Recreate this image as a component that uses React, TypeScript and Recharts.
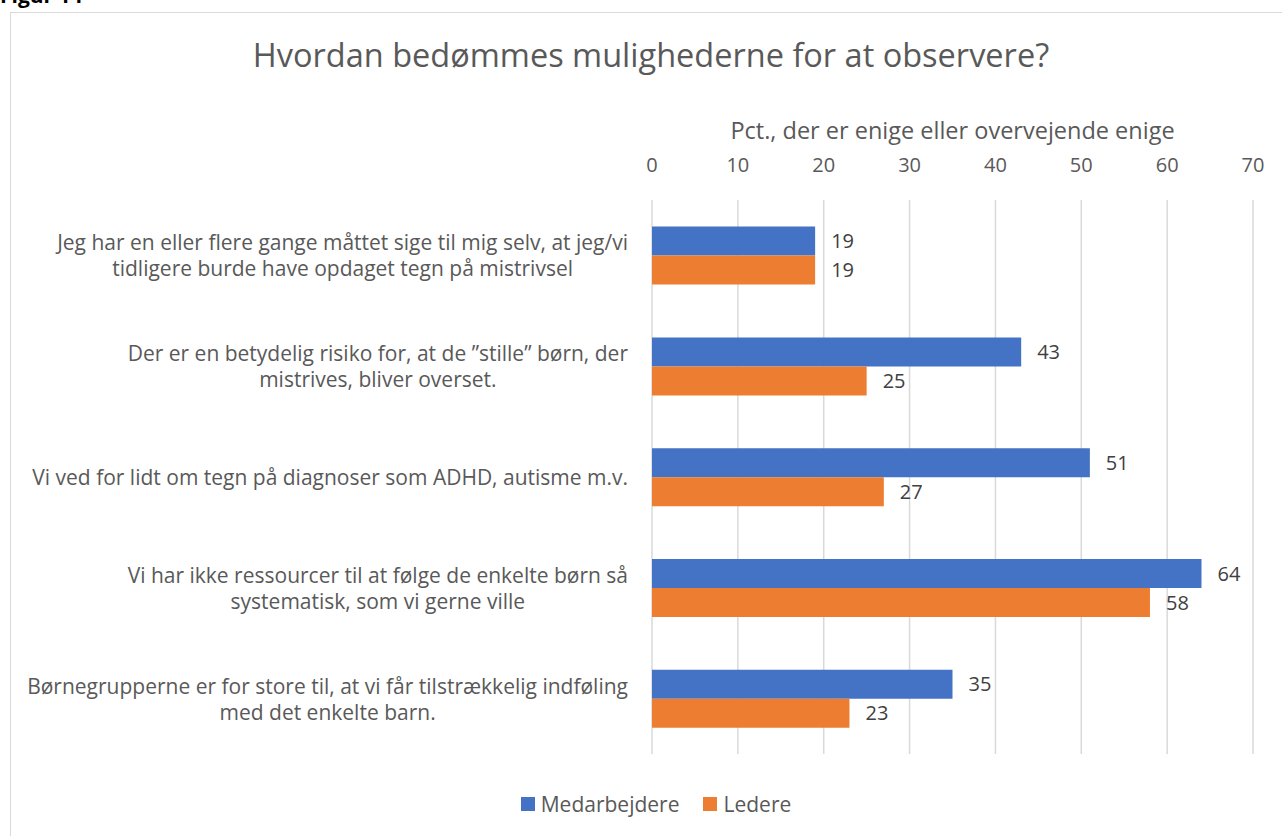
import { BarChart, Bar, XAxis, YAxis, CartesianGrid, LabelList } from 'recharts';

const categories = [
  'Jeg har en eller flere gange måttet sige til mig selv, at jeg/vi\ntidligere burde have opdaget tegn på mistrivsel',
  'Der er en betydelig risiko for, at de ”stille” børn, der\nmistrives, bliver overset.',
  'Vi ved for lidt om tegn på diagnoser som ADHD, autisme m.v.',
  'Vi har ikke ressourcer til at følge de enkelte børn så\nsystematisk, som vi gerne ville',
  'Børnegrupperne er for store til, at vi får tilstrækkelig indføling\nmed det enkelte barn.',
];
const medarbejdere = [19, 43, 51, 64, 35];
const ledere = [19, 25, 27, 58, 23];
const xTicks = [0, 10, 20, 30, 40, 50, 60, 70];

const data = categories.map((label, i) => ({
  label,
  Medarbejdere: medarbejdere[i],
  Ledere: ledere[i],
}));

const FONT = '"Open Sans", Lato, sans-serif';
const TEXT = '#595959';
const BLUE = '#4472C4';
const ORANGE = '#ED7D31';
const LABEL_SIZE = 21;

let ctx: CanvasRenderingContext2D | null = null;
function textWidth(s: string, size: number) {
  if (!ctx) ctx = document.createElement('canvas').getContext('2d');
  if (!ctx) return s.length * size * 0.5;
  ctx.font = `${size}px "Open Sans"`;
  return ctx.measureText(s).width;
}

// multi-line category label, lines centred within the block, block right edge near the axis
function CategoryTick(props: any) {
  const { x, y, payload } = props;
  const lines: string[] = String(payload.value).split('\n');
  const lh = 26;
  const start = y - ((lines.length - 1) * lh) / 2;
  const maxW = Math.max(...lines.map((l) => textWidth(l, LABEL_SIZE)));
  const cx = x - 18 - maxW / 2;
  return (
    <text x={cx} y={start} textAnchor="middle" fill={TEXT} fontSize={LABEL_SIZE} fontFamily={FONT} dominantBaseline="central">
      {lines.map((l, i) => (
        <tspan key={i} x={cx} y={start + i * lh}>
          {l}
        </tspan>
      ))}
    </text>
  );
}

export default function App() {
  return (
    <div style={{ position: 'absolute', left: 0, top: 0, width: 1282, height: 836, overflow: 'hidden', background: '#fff', fontFamily: FONT }}>
      <div style={{ position: 'absolute', left: 0, top: -19, fontSize: 21, fontWeight: 700, color: '#000' }}>Figur 14</div>
      <div style={{ position: 'absolute', left: 10, top: 12, width: 1290, height: 840, border: '1px solid #d9d9d9' }} />
      <div style={{ position: 'absolute', left: 0, width: 1302, top: 32, textAlign: 'center', fontSize: 32.5, color: TEXT }}>
        Hvordan bedømmes mulighederne for at observere?
      </div>
      <div style={{ position: 'absolute', left: 652, width: 601, top: 114, textAlign: 'center', fontSize: 23.5, color: TEXT }}>
        Pct., der er enige eller overvejende enige
      </div>
      <div style={{ position: 'absolute', left: 0, top: 0 }}>
        <BarChart
          width={1282}
          height={836}
          data={data}
          layout="vertical"
          margin={{ top: 150, right: 29, bottom: 82, left: 10 }}
          barCategoryGap="24%"
          barGap={0}
        >
          <CartesianGrid horizontal={false} stroke="#d9d9d9" strokeWidth={1.5} />
          <XAxis
            type="number"
            orientation="top"
            domain={[0, 70]}
            ticks={xTicks}
            height={50}
            axisLine={false}
            tickLine={false}
            tickMargin={22}
            tick={{ fill: TEXT, fontSize: 20, fontFamily: FONT }}
          />
          <YAxis
            type="category"
            dataKey="label"
            width={642}
            axisLine={false}
            tickLine={false}
            tickMargin={0}
            tick={<CategoryTick />}
          />
          <Bar dataKey="Medarbejdere" fill={BLUE} isAnimationActive={false}>
            <LabelList dataKey="Medarbejdere" position="right" offset={16} fill="#404040" fontSize={20} fontFamily={FONT} />
          </Bar>
          <Bar dataKey="Ledere" fill={ORANGE} isAnimationActive={false}>
            <LabelList dataKey="Ledere" position="right" offset={16} fill="#404040" fontSize={20} fontFamily={FONT} />
          </Bar>
        </BarChart>
      </div>
      <div style={{ position: 'absolute', left: 0, width: 1312, top: 790, display: 'flex', justifyContent: 'center', gap: 24, fontSize: 21, color: TEXT }}>
        <span style={{ display: 'flex', alignItems: 'center' }}>
          <span style={{ width: 14, height: 14, background: BLUE, display: 'inline-block', marginRight: 6 }} />
          Medarbejdere
        </span>
        <span style={{ display: 'flex', alignItems: 'center' }}>
          <span style={{ width: 14, height: 14, background: ORANGE, display: 'inline-block', marginRight: 6 }} />
          Ledere
        </span>
      </div>
    </div>
  );
}
